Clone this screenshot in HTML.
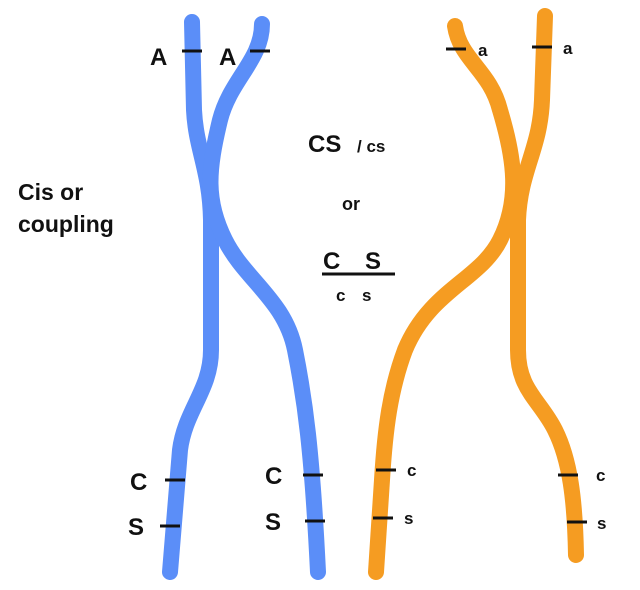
<!DOCTYPE html>
<html><head><style>
body{margin:0;background:#fff;}
svg{display:block;}
text{font-family:"Liberation Sans",sans-serif;font-weight:bold;fill:#111;}
</style></head><body>
<svg width="640" height="590" viewBox="0 0 640 590">
<g fill="none" stroke-linecap="round" stroke-linejoin="round" stroke-width="16">
<path stroke="#5b8ef8" d="M192,22 L194,110 C196,150 210,170 211,220 L211,350 C211,390 185,410 180,450 L170,572"/>
<path stroke="#5b8ef8" d="M262,24 C262,60 230,80 220,120 C208,170 205,200 225,240 C245,280 285,300 295,350 C305,400 312,450 318,572"/>
<path stroke="#f59c22" d="M455,26 C460,60 490,70 500,110 C515,160 520,200 500,240 C480,280 430,290 405,350 C390,390 385,430 382,480 L376,572"/>
<path stroke="#f59c22" d="M545,16 L542,100 C540,150 520,170 518,220 L518,350 C518,390 540,400 555,430 C570,460 575,500 576,555"/>
</g>
<g stroke="#111" stroke-width="3">
<line x1="182" y1="51" x2="202" y2="51"/><line x1="250" y1="51" x2="270" y2="51"/>
<line x1="446" y1="49" x2="466" y2="49"/><line x1="532" y1="47" x2="552" y2="47"/>
<line x1="165" y1="480" x2="185" y2="480"/><line x1="160" y1="526" x2="180" y2="526"/>
<line x1="303" y1="475" x2="323" y2="475"/><line x1="305" y1="521" x2="325" y2="521"/>
<line x1="376" y1="470" x2="396" y2="470"/><line x1="373" y1="518" x2="393" y2="518"/>
<line x1="558" y1="475" x2="578" y2="475"/><line x1="567" y1="522" x2="587" y2="522"/>
<line x1="322" y1="274" x2="395" y2="274"/>
</g>
<text x="150" y="65" font-size="24">A</text>
<text x="219" y="65" font-size="24">A</text>
<text x="478" y="56" font-size="17">a</text>
<text x="563" y="54" font-size="17">a</text>
<text x="130" y="490" font-size="24">C</text>
<text x="128" y="535" font-size="24">S</text>
<text x="265" y="484" font-size="24">C</text>
<text x="265" y="530" font-size="24">S</text>
<text x="407" y="476" font-size="17">c</text>
<text x="404" y="524" font-size="17">s</text>
<text x="596" y="481" font-size="17">c</text>
<text x="597" y="529" font-size="17">s</text>
<text x="18" y="200" font-size="23">Cis or</text>
<text x="18" y="232" font-size="23">coupling</text>
<text x="308" y="152" font-size="24">CS</text>
<text x="357" y="152" font-size="17">/ cs</text>
<text x="342" y="210" font-size="18">or</text>
<text x="323" y="269" font-size="24">C</text>
<text x="365" y="269" font-size="24">S</text>
<text x="336" y="301" font-size="17">c</text>
<text x="362" y="301" font-size="17">s</text>
</svg>
</body></html>
